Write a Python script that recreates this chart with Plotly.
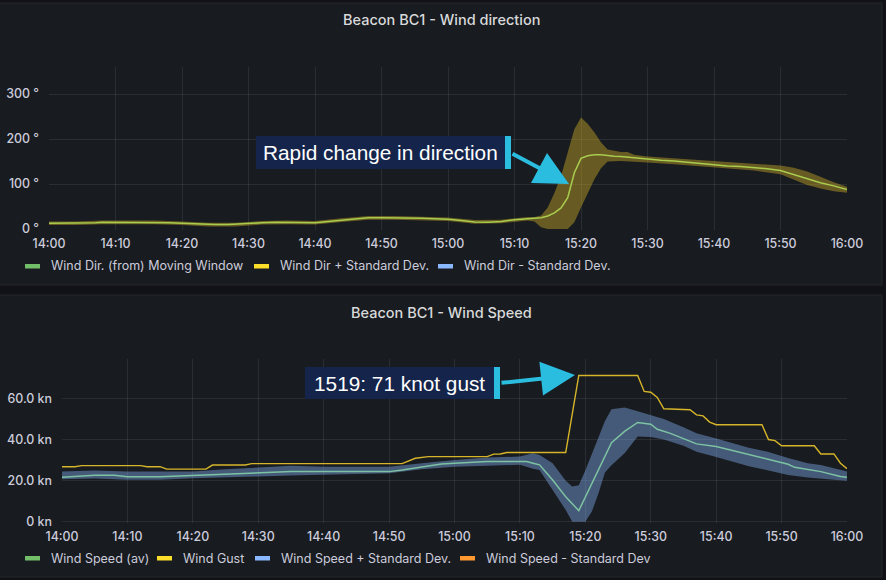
import datetime as dt
import plotly.graph_objects as go

# ---------------- data ----------------
BASE = dt.datetime(2021, 1, 1, 14, 0)

# Wind direction panel (minutes after 14:00, degrees)
dir_t = [0,2,4,6,7,8,10,12,14,16,18,20,22,23,25,27,28,30,32,34,36,38,40,42,44,46,48,50,52,54,56,58,60,62,64,66,68,70,72,73,74,75,76,77,78,79,80,81,82,83,84,85,86,88,90,92,94,96,98,100,102,104,106,108,110,112,114,116,118,120]
dir_v = [13,13,13,13,14,15,15,15,15,15,14,13,12,10,10,10,11,13,14,15,15,14,14,17,20,23,25,25,25,25,24,23,22,19,16,15,17,21,23,23,25,29,36,47,70,125,157,163,165,165,163,162,161,158,155,153,151,148,146,142,140,139,137,134,130,121,111,103,96,88]

dir_up_t = [0,4,8,12,16,20,24,28,32,36,40,44,48,52,56,60,64,68,72,73,74,75,76,77,78,79,80,81,82,83,84,86,87,88,90,94,98,102,106,110,112,114,116,118,120]
dir_up_v = [17,17,19,19,19,17,14,14,18,19,18,24,29,29,28,26,20,21,27,27,30,48,80,118,170,222,248,234,215,193,177,171,171,165,161,157,153,149,146,141,136,128,116,104,94]

dir_lo_t = [0,4,8,12,16,20,24,28,32,36,40,44,48,52,56,60,64,68,72,73,74,75,78,79,80,81,82,83,84,86,88,90,94,98,102,106,110,112,114,116,118,120]
dir_lo_v = [9,9,11,11,11,9,6,6,10,11,10,16,21,21,20,18,12,13,19,17,4,0,0,15,48,80,110,135,150,151,150,148,144,139,134,130,122,110,98,90,84,81]

# Wind speed panel (minutes after 14:00, knots)
gust_t = [0,2,3,12,13,15,16,22,23,28,29,52,54,55,56,65,66,67,68,77,79,88,89,90,91,92,96,97,98,99,100,107,108,109,110,115,116,118,119,120]
gust_v = [26.8,26.8,27.3,27.3,26.8,26.8,25.6,25.6,27.6,27.6,28.3,28.3,30.9,31.3,31.7,31.7,32.9,33,33.7,33.7,71.2,71.2,63.4,63,60.5,55,54.5,52,51.5,48.5,47.2,47.2,40,39.5,37,37,33,33,28.5,25.8]

spd_t = [0,2,5,8,10,15,20,25,30,35,40,45,50,52,55,58,60,65,70,71,72,73,75,77,79,80,81,82,84,86,88,90,91,93,95,97,100,102,105,107,109,111,112,114,116,119,120]
spd_v = [21.7,22,22.6,22.6,21.9,21.9,22.6,23.2,23.9,24.4,24.4,24.4,24.4,25.2,26.8,28.1,28.5,29.3,29.3,29.3,28.5,27.7,20.3,12.2,5.4,12,18,25,38.5,44,48.3,47.5,45,43,40.5,37.9,36.6,35,32.5,30.9,29.5,28,26.5,25.5,24.4,22,21.7]

spd_up_t = [0,5,10,15,20,25,30,35,40,45,50,55,60,65,70,72,73,75,77,78,79,80,81,83,84,86,88,90,92,95,97,100,105,108,111,114,116,118,120]
spd_up_v = [24.4,25,24.4,24.4,24.4,25.5,26.5,27.2,26.8,26.8,26.8,28.5,30.1,31.3,31.7,33.4,32.5,28.5,20,17.1,17.8,25,33,49,54.8,55.6,53.8,52,50,46,43.1,40.5,36,34,31,28.5,27.6,26,24.4]

spd_lo_t = [0,5,10,15,20,25,30,35,40,45,50,55,60,65,70,72,73,75,77,78,80,81,82,83,84,86,88,90,92,95,97,100,105,108,111,114,116,118,120]
spd_lo_v = [20.7,21,20.5,20.5,21.2,21.5,22,22.5,22.8,23,23.6,25.5,26.8,27.3,27.7,25.8,25.2,15.5,5.7,0,0,5,13.8,24,27.5,33.4,41.5,41.2,40,37,34.1,31.5,27,25,22.8,21.5,21.1,20.5,19.9]

dir_ticks = [0, 100, 200, 300]
dir_tick_text = ["0 °", "100 °", "200 °", "300 °"]
spd_ticks = [0, 20, 40, 60]
spd_tick_text = ["0 kn", "20.0 kn", "40.0 kn", "60.0 kn"]

top_title = "Beacon BC1 - Wind direction"
bot_title = "Beacon BC1 - Wind Speed"
top_legend = [("Wind Dir. (from) Moving Window", "#73BF69"),
              ("Wind Dir + Standard Dev.", "#FADE2A"),
              ("Wind Dir - Standard Dev.", "#8AB8FF")]
bot_legend = [("Wind Speed (av)", "#73BF69"),
              ("Wind Gust", "#FADE2A"),
              ("Wind Speed + Standard Dev.", "#8AB8FF"),
              ("Wind Speed - Standard Dev", "#FF9830")]
callout_top = "Rapid change in direction"
callout_bot = "1519: 71 knot gust"

# ---------------- helpers ----------------
W, H = 886, 580
def px(x): return x / W
def py(y): return 1 - y / H
def times(mins): return [BASE + dt.timedelta(minutes=m) for m in mins]

TXT = "#ccccdc"
FONT = "Inter"

fig = go.Figure()

# Top panel
fig.add_trace(go.Scatter(x=times(dir_lo_t), y=dir_lo_v, mode="lines", line=dict(width=0, color="rgba(200,170,40,0.45)"),
                         xaxis="x", yaxis="y", showlegend=False, hoverinfo="skip"))
fig.add_trace(go.Scatter(x=times(dir_up_t), y=dir_up_v, mode="lines", line=dict(width=0, color="rgba(200,170,40,0.45)"),
                         fill="tonexty", fillcolor="rgba(200,170,40,0.45)", xaxis="x", yaxis="y", showlegend=False))
fig.add_trace(go.Scatter(x=times(dir_t), y=dir_v, mode="lines", line=dict(width=1.5, color="#a9cc4e"),
                         xaxis="x", yaxis="y", showlegend=False))

# Bottom panel
fig.add_trace(go.Scatter(x=times(spd_lo_t), y=spd_lo_v, mode="lines", line=dict(width=0, color="rgba(138,184,255,0.4)"),
                         xaxis="x2", yaxis="y2", showlegend=False))
fig.add_trace(go.Scatter(x=times(spd_up_t), y=spd_up_v, mode="lines", line=dict(width=0, color="rgba(138,184,255,0.4)"),
                         fill="tonexty", fillcolor="rgba(138,184,255,0.4)", xaxis="x2", yaxis="y2", showlegend=False))
fig.add_trace(go.Scatter(x=times(spd_t), y=spd_v, mode="lines", line=dict(width=1.5, color="#7dc3a3"),
                         xaxis="x2", yaxis="y2", showlegend=False))
fig.add_trace(go.Scatter(x=times(gust_t), y=gust_v, mode="lines", line=dict(width=1.4, color="#d6b52a"),
                         xaxis="x2", yaxis="y2", showlegend=False))

grid = "rgba(204,204,220,0.10)"
tickfont = dict(family=FONT, size=12.4, color=TXT, weight=500)
xcommon = dict(type="date", range=[BASE, BASE + dt.timedelta(minutes=120)], tickformat="%H:%M",
               dtick=600000, tick0=BASE, showgrid=True, gridcolor=grid, zeroline=False, showline=False,
               ticks="", tickfont=tickfont, ticklabelstandoff=5,
               automargin=False, fixedrange=True)
ycommon = dict(showgrid=True, gridcolor=grid, zeroline=False, showline=False, ticks="",
               tickfont=tickfont, ticklabelstandoff=9, automargin=False)
fig.update_layout(
    xaxis=dict(domain=[px(49), px(847)], anchor="y", **xcommon),
    yaxis=dict(domain=[py(230), py(67)], anchor="x", range=[-2, 360], tickvals=dir_ticks, ticktext=dir_tick_text, **ycommon),
    xaxis2=dict(domain=[px(62), px(847)], anchor="y2", **xcommon),
    yaxis2=dict(domain=[py(523), py(359)], anchor="x2", range=[-0.6, 79.2], tickvals=spd_ticks, ticktext=spd_tick_text, **ycommon),
    width=W, height=H, margin=dict(l=0, r=0, t=0, b=0, autoexpand=False),
    paper_bgcolor="#111217", plot_bgcolor="#181b1f", showlegend=False,
)

shapes = []
# panels
for (y0, y1) in [(3, 285), (295, 577)]:
    shapes.append(dict(type="rect", xref="paper", yref="paper", x0=px(-2), x1=px(882), y0=py(y1), y1=py(y0),
                       fillcolor="#181b1f", line=dict(color="#24262b", width=1), layer="below"))

annotations = []
for txt, yc in [(top_title, 20), (bot_title, 312.5)]:
    annotations.append(dict(text=txt, x=px(441), y=py(yc), xref="paper", yref="paper", showarrow=False,
                            xanchor="center", yanchor="middle",
                            font=dict(family=FONT, size=14.5, color="#d8d9da", weight=500)))

def legend(items, ycen, starts):
    for (label, color), x0 in zip(items, starts):
        shapes.append(dict(type="rect", xref="paper", yref="paper", x0=px(x0), x1=px(x0 + 15),
                           y0=py(ycen + 2.5), y1=py(ycen - 2), fillcolor=color, line=dict(width=0), layer="above"))
        annotations.append(dict(text=label, x=px(x0 + 24), y=py(ycen), xref="paper", yref="paper", showarrow=False,
                                xanchor="left", yanchor="middle", font=dict(family=FONT, size=12.5, color=TXT)))

legend(top_legend, 266, [25, 254, 438])
legend(bot_legend, 558, [25, 157, 255, 460])

# callouts
NAVY = "#14244a"
CYAN = "#2bbde0"
for (bx0, bx1, by0, by1, barw, text, head, tail) in [
        (256, 505, 136, 169, 6, callout_top, (569, 184), (511, 153)),
        (305, 494, 367, 399, 6, callout_bot, (575, 375), (500, 383))]:
    shapes.append(dict(type="rect", xref="paper", yref="paper", x0=px(bx0), x1=px(bx1), y0=py(by1), y1=py(by0),
                       fillcolor=NAVY, line=dict(width=0), layer="above"))
    shapes.append(dict(type="rect", xref="paper", yref="paper", x0=px(bx1), x1=px(bx1 + barw), y0=py(by1), y1=py(by0),
                       fillcolor=CYAN, line=dict(width=0), layer="above"))
    annotations.append(dict(text=text, x=px((bx0 + bx1) / 2), y=py((by0 + by1) / 2), xref="paper", yref="paper",
                            showarrow=False, xanchor="center", yanchor="middle",
                            font=dict(family="Liberation Sans", size=20.8, color="white")))
    annotations.append(dict(text="", x=px(head[0]), y=py(head[1]), xref="paper", yref="paper",
                            ax=tail[0] - head[0], ay=tail[1] - head[1], axref="pixel", ayref="pixel",
                            showarrow=True, arrowhead=2, arrowsize=1.7, arrowwidth=4, arrowcolor=CYAN))

fig.update_layout(shapes=shapes, annotations=annotations)
fig.write_html("out.html")
